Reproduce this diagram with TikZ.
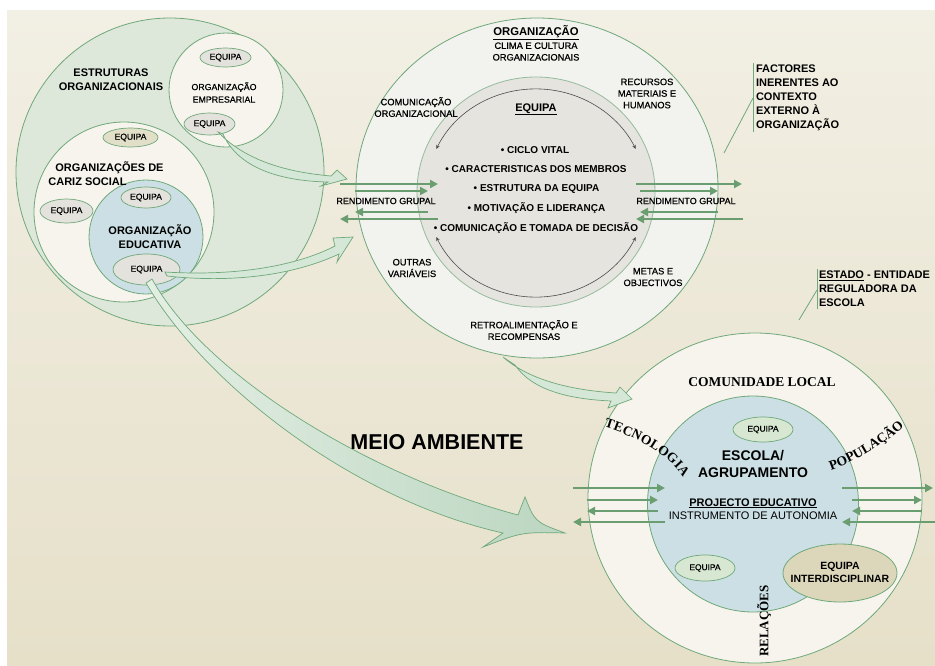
\documentclass[tikz,border=0pt]{standalone}
\usepackage{fontspec}
\setmainfont{Liberation Sans}
\newfontfamily\tnr{Liberation Serif}
\newfontfamily\semib{Liberation Sans}[FakeBold=0.6]
\usetikzlibrary{shapes.geometric,arrows.meta,decorations.text}
\newcommand\myfs[2]{\fontsize{#1}{#2}\selectfont}
\newcommand\curvefont{\tnr\bfseries\fontsize{13.5}{13.5}\selectfont}
\definecolor{bgtop}{HTML}{F2EFE4}
\definecolor{bgbot}{HTML}{E6E0C9}
\definecolor{ring}{HTML}{6FA87A}
\definecolor{estrfill}{HTML}{DDE8DB}
\definecolor{cream}{HTML}{F6F4EC}
\definecolor{edublue}{HTML}{CBDFE4}
\definecolor{orgfill}{HTML}{F2F2EE}
\definecolor{eqgrey}{HTML}{E5E4DF}
\definecolor{eqring}{HTML}{95BB9C}
\definecolor{ellgrey}{HTML}{E3E2DC}
\definecolor{elltan}{HTML}{E2DFC9}
\definecolor{ellgreen}{HTML}{D7E7D2}
\definecolor{interfill}{HTML}{DCD7BA}
\definecolor{flowline}{HTML}{6A9E70}
\definecolor{fatfill}{HTML}{D5E7D7}
\definecolor{fatlight}{HTML}{E4EFE4}
\definecolor{fatdark}{HTML}{BBD6C1}
\begin{document}
\begin{tikzpicture}[x=1pt,y=-1pt,
  every node/.style={inner sep=0pt,outer sep=0pt},
  zone/.style={draw=ring,line width=0.8pt},
  eqell/.style={draw=ring,line width=0.7pt,ellipse,minimum width=#1,font=\semib\myfs{8.6}{10}},
  txt/.style={align=center,font=\semib\myfs{9.3}{11.6}},
  bul/.style={anchor=base,font=\bfseries\myfs{10}{12}},
  head/.style={align=center,font=\bfseries\myfs{11}{14}},
  flowarrow/.style={draw=flowline,line width=2.3pt,-{Triangle[length=8pt,width=8pt]}},
  fatarrow/.style={draw=ring,line width=0.7pt,fill=fatfill},
  leader/.style={draw=ring,line width=0.8pt},
  cyclearc/.style={draw=black!70,line width=0.6pt,{Stealth[length=4pt,width=3.5pt]}-{Stealth[length=4pt,width=3.5pt]}}]

\useasboundingbox (0,0) rectangle (935,665);
\fill[white] (0,0) rectangle (935,665);
\shade[top color=bgtop,bottom color=bgbot] (7,10) rectangle (935,665);

% ---- organisational structures (left cluster)
\node[zone,circle,fill=estrfill,minimum size=308pt] (estr) at (170,172) {};
\node[zone,circle,fill=cream,minimum size=114pt] (emp) at (226,90) {};
\node[zone,circle,fill=cream,minimum size=180pt] (cariz) at (124,212) {};
\node[zone,circle,fill=edublue,minimum size=114pt] (edu) at (146,237) {};

\node[eqell=51pt,minimum height=19pt,fill=ellgrey] (e1) at (225.5,57.5) {EQUIPA};
\node[eqell=51pt,minimum height=22pt,fill=ellgrey] (e2) at (209.5,124) {EQUIPA};
\node[eqell=55pt,minimum height=19pt,fill=elltan] (e3) at (130.5,137.5) {EQUIPA};
\node[eqell=53pt,minimum height=24pt,fill=ellgrey] (e4) at (66.5,211) {EQUIPA};
\node[eqell=50pt,minimum height=21pt,fill=ellgrey] (e5) at (146,197.5) {EQUIPA};
\node[eqell=67pt,minimum height=31pt,fill=ellgrey] (e6) at (146.5,269.5) {EQUIPA};

\node[head] (lestr) at (111,80) {ESTRUTURAS\\ORGANIZACIONAIS};
\node[txt,font=\semib\myfs{8.8}{12.5}] (lemp) at (224,92.5) {ORGANIZAÇÃO\\EMPRESARIAL};
\node[head,align=left] (lcariz) at (106,174) {\hspace*{7pt}ORGANIZAÇÕES DE\\CARIZ SOCIAL};
\node[head] (ledu) at (150,236.5) {ORGANIZAÇÃO\\EDUCATIVA};

% ---- block arrows leaving the teams
\draw[fatarrow] (218,132) .. controls (245,160) and (285,172) .. (331,176) -- (337,170) -- (347,179)
  -- (321,186) -- (328,182) .. controls (280,181) and (238,168) .. (223,134) -- cycle;
\draw[fatarrow] (165,272) .. controls (230,276) and (292,268) .. (335,246) -- (333,238) -- (353,237)
  -- (337,262) -- (339,254) .. controls (292,276) and (230,283) .. (167,276) -- cycle;
\draw[fatarrow,left color=fatlight,right color=fatdark] (152,279) .. controls (205,375) and (368,475) .. (518,515)
  -- (525,497) .. controls (535,522) .. (565,533) .. controls (522,532) .. (483,547)
  -- (503,533) .. controls (355,500) and (206,386) .. (146,283) -- cycle;

% ---- organisation
\node[zone,ellipse,fill=orgfill,minimum width=362pt,minimum height=340pt] (org) at (537,188) {};
\node[draw=eqring,line width=0.8pt,ellipse,fill=eqgrey,minimum width=238pt,minimum height=230pt] (eqc) at (536,192) {};
\draw[cyclearc] (436.3,149) arc[start angle=155,end angle=25,x radius=110pt,y radius=104pt];
\draw[cyclearc] (436.3,237) arc[start angle=205,end angle=335,x radius=110pt,y radius=104pt];

\node[anchor=base,font=\bfseries\myfs{11.3}{13}] (lorg) at (536,35) {\underline{ORGANIZAÇÃO}};
\node[txt] (lclima) at (536,51.5) {CLIMA E CULTURA\\ORGANIZACIONAIS};
\node[txt] (lrec) at (647,93.5) {RECURSOS\\MATERIAIS E\\HUMANOS};
\node[txt] (lcom) at (416,107) {COMUNICAÇÃO\\ORGANIZACIONAL};
\node[anchor=base,font=\bfseries\myfs{11}{13}] (leq) at (536,111) {\underline{EQUIPA}};
\node[bul] (b1) at (535,153.5) {• CICLO VITAL};
\node[bul] (b2) at (536,172.5) {• CARACTERISTICAS DOS MEMBROS};
\node[bul] (b3) at (536.5,191.5) {• ESTRUTURA DA EQUIPA};
\node[bul] (b4) at (536.5,211.5) {• MOTIVAÇÃO E LIDERANÇA};
\node[bul] (b5) at (536,231.5) {• COMUNICAÇÃO E TOMADA DE DECISÃO};
\node[txt,font=\semib\myfs{9}{11}] (lrendl) at (386,201) {RENDIMENTO GRUPAL};
\node[txt,font=\semib\myfs{9}{11}] (lrendr) at (686,201) {RENDIMENTO GRUPAL};
\node[txt] (lout) at (412,268) {OUTRAS\\VARIÁVEIS};
\node[txt] (lmet) at (653,277) {METAS E\\OBJECTIVOS};
\node[txt] (lretro) at (524,330) {RETROALIMENTAÇÃO E\\RECOMPENSAS};

% ---- group performance flows
\foreach \n/\xa/\xb/\y in {a/340/438/184, b/355/428/191, c/428/355/212, d/438/340/219,
    e/636/742/184, f/640/718/191, g/718/640/212, h/743/636/219}{
  \coordinate (h\n s) at (\xa,\y);
  \coordinate (h\n e) at (\xb,\y);
  \draw[flowarrow] (h\n s) -- (h\n e);
}

% ---- external factors
\coordinate (fv1) at (753,63);
\coordinate (fv2) at (753,132);
\coordinate (fm) at (753,98);
\coordinate (fp) at (724,153);
\draw[leader] (fv1) -- (fv2);
\draw[leader] (fm) -- (fp);
\node[anchor=north west,align=left,font=\bfseries\myfs{11}{14}] (lfact) at (756,65)
  {FACTORES\\INERENTES AO\\CONTEXTO\\EXTERNO À\\ORGANIZAÇÃO};

\coordinate (sv1) at (817,269);
\coordinate (sv2) at (817,309);
\coordinate (sm) at (817,290);
\coordinate (sp) at (799,320);
\draw[leader] (sv1) -- (sv2);
\draw[leader] (sm) -- (sp);
\node[anchor=north west,align=left,font=\bfseries\myfs{11}{14}] (lest) at (819,271)
  {\underline{ESTADO} - ENTIDADE\\REGULADORA DA\\ESCOLA};

\node[anchor=base,font=\bfseries\myfs{21.5}{24}] (lmeio) at (437,449.5) {MEIO AMBIENTE};

% ---- local community and school
\node[zone,ellipse,fill=cream,minimum width=334pt,minimum height=330pt] (comm) at (755,498) {};
\node[zone,ellipse,fill=edublue,minimum width=211pt,minimum height=216pt] (esc) at (753,504) {};

\foreach \n/\xa/\xb/\y in {i/573/665/488, j/587/658/500, k/658/587/511, l/665/573/522,
    m/842/933/488, n/852/922/500, o/922/852/511, p/935/842/522}{
  \coordinate (h\n s) at (\xa,\y);
  \coordinate (h\n e) at (\xb,\y);
  \draw[flowarrow] (h\n s) -- (h\n e);
}

\draw[fatarrow] (503,357) .. controls (528,379) and (568,390) .. (616,393) -- (620,387) -- (632,399)
  -- (608,408) -- (611,401) .. controls (568,399) and (532,390) .. (515,365) -- cycle;

\node[eqell=60pt,minimum height=25pt,fill=ellgreen,font=\semib\myfs{8.4}{10}] (f1) at (763,429.5) {EQUIPA};
\node[eqell=60pt,minimum height=26pt,fill=ellgreen,font=\semib\myfs{8.4}{10}] (f2) at (705,568) {EQUIPA};
\node[draw=ring,line width=0.8pt,ellipse,fill=interfill,minimum width=114pt,minimum height=58pt] (f3) at (840,573) {};
\node[align=center,font=\bfseries\myfs{10.5}{13}] (linter) at (840,572.5) {EQUIPA\\INTERDISCIPLINAR};

\node[anchor=base,font=\tnr\bfseries\myfs{13.5}{15}] (lcomm) at (762,386.5) {COMUNIDADE LOCAL};
\node[align=center,font=\bfseries\myfs{14}{17}] (lesc) at (753,463.5) {ESCOLA/\\AGRUPAMENTO};
\node[anchor=base,font=\bfseries\myfs{11}{13}] (lproj) at (753,506) {\underline{PROJECTO EDUCATIVO}};
\node[anchor=base,font=\myfs{11}{13}] (linst) at (753,519) {INSTRUMENTO DE AUTONOMIA};
\node[rotate=90,font=\tnr\bfseries\myfs{13}{15}] (lrel) at (764,621) {RELAÇÕES};

\path[decorate,decoration={text along path,text={|\curvefont|TECNOLOGIA},text align=fit to path}]
  (604,427) .. controls (634,436) and (669,454) .. (683,477);
\path[decorate,decoration={text along path,text={|\curvefont|POPULAÇÃO},text align=fit to path}]
  (831,470) .. controls (857,461) and (889,441) .. (904,426);
\end{tikzpicture}
\end{document}
